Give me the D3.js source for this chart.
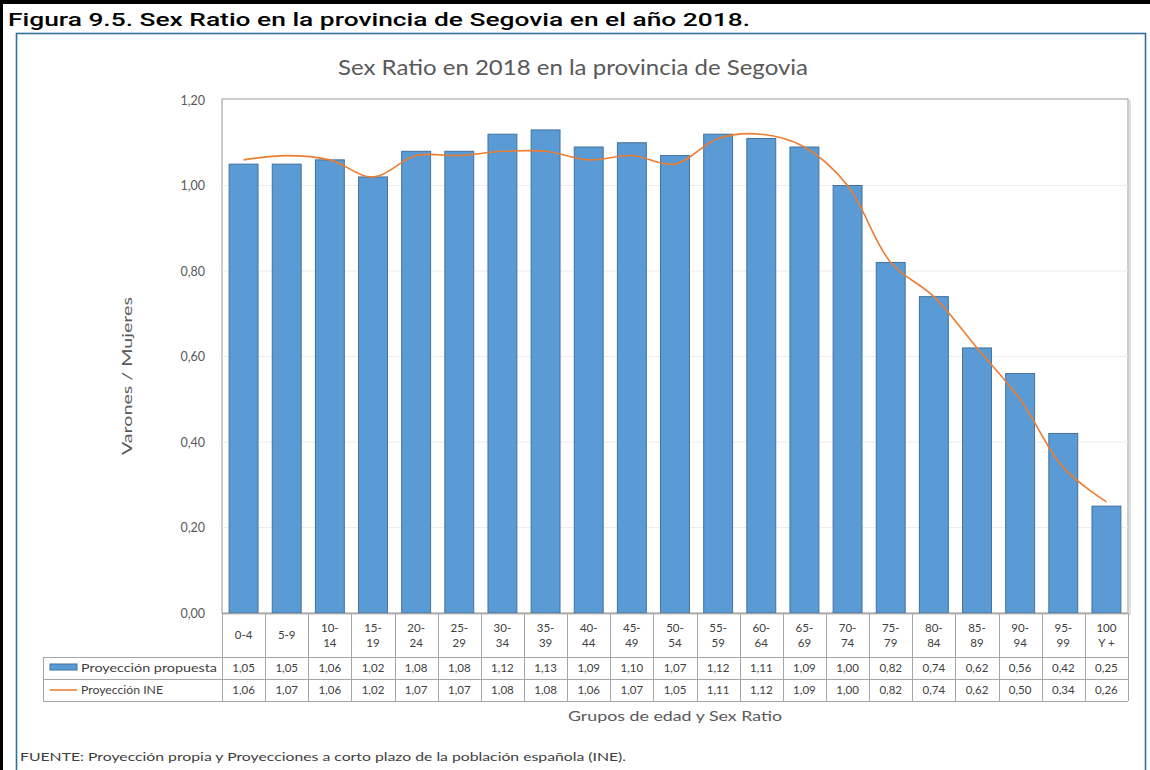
<!DOCTYPE html>
<html><head><meta charset="utf-8">
<script src="https://cdn.jsdelivr.net/npm/d3@7"></script>
<style>body{margin:0;background:#fff}svg{display:block}</style>
</head><body>
<svg id="c" width="1150" height="770"></svg>
<script>
const categories = [["0-4"],["5-9"],["10-","14"],["15-","19"],["20-","24"],["25-","29"],["30-","34"],["35-","39"],["40-","44"],["45-","49"],["50-","54"],["55-","59"],["60-","64"],["65-","69"],["70-","74"],["75-","79"],["80-","84"],["85-","89"],["90-","94"],["95-","99"],["100","Y +"]];
const propuesta = [1.05,1.05,1.06,1.02,1.08,1.08,1.12,1.13,1.09,1.10,1.07,1.12,1.11,1.09,1.00,0.82,0.74,0.62,0.56,0.42,0.25];
const ine = [1.06,1.07,1.06,1.02,1.07,1.07,1.08,1.08,1.06,1.07,1.05,1.11,1.12,1.09,1.00,0.82,0.74,0.62,0.50,0.34,0.26];
const yTicks = [0,0.2,0.4,0.6,0.8,1.0,1.2];
const seriesNames = ["Proyección propuesta","Proyección INE"];

const svg = d3.select("#c");
const fmt = v => d3.format(".2f")(v).replace(".", ",");
const font = "Lato, 'Open Sans', sans-serif";
const txt = "#595959";

// outer borders
svg.append("rect").attr("x",0).attr("y",0).attr("width",1150).attr("height",4).attr("fill","#000");
svg.append("rect").attr("x",0).attr("y",0).attr("width",3).attr("height",770).attr("fill","#000");
svg.append("text").attr("x",8).attr("y",26).attr("font-family","Roboto, 'DejaVu Sans Condensed', sans-serif")
  .attr("font-weight",500).attr("font-size",19).attr("fill","#000")
  .attr("textLength",742).attr("lengthAdjust","spacingAndGlyphs")
  .text("Figura 9.5. Sex Ratio en la provincia de Segovia en el año 2018.");
// blue frame
svg.append("rect").attr("x",16.5).attr("y",33.5).attr("width",1129).attr("height",760)
  .attr("fill","none").attr("stroke","#2f6f9c").attr("stroke-width",1.6);

const X0 = 222, X1 = 1128, Y0 = 613, Ytop = 100;
const x = d3.scaleBand().domain(d3.range(categories.length)).range([X0, X1]).padding(0);
const y = d3.scaleLinear().domain([0,1.2]).range([Y0, Ytop]);
const bw = x.bandwidth()*0.67;

// chart title
svg.append("text").attr("x",573).attr("y",75).attr("text-anchor","middle").attr("font-family",font)
  .attr("font-size",22).attr("fill",txt).attr("textLength",470).attr("lengthAdjust","spacingAndGlyphs")
  .text("Sex Ratio en 2018 en la provincia de Segovia");

// plot area with subtle shadow
svg.append("rect").attr("x",X0+2).attr("y",Ytop+1).attr("width",X1-X0).attr("height",Y0-Ytop)
  .attr("fill","none").attr("stroke","#e0e0e0").attr("stroke-width",2);
svg.append("rect").attr("x",X0).attr("y",Ytop-1).attr("width",X1-X0).attr("height",Y0-Ytop+1)
  .attr("fill","#fff").attr("stroke","#9a9a9a").attr("stroke-width",1);

// gridlines
svg.append("g").selectAll("line").data(yTicks.slice(1,-1)).join("line")
  .attr("x1",X0).attr("x2",X1).attr("y1",d=>y(d)).attr("y2",d=>y(d))
  .attr("stroke","#ececec").attr("stroke-width",1);

// y axis labels
const yAxis = svg.append("g").attr("transform",`translate(${X0-17},0)`)
  .call(d3.axisLeft(y).tickValues(yTicks).tickFormat(fmt).tickSize(0).tickPadding(0));
yAxis.select(".domain").remove();
yAxis.selectAll("text").attr("font-family",font).attr("font-size",12.5).attr("fill",txt);

svg.append("text").attr("transform","translate(132,376) rotate(-90)").attr("text-anchor","middle")
  .attr("font-family",font).attr("font-size",13).attr("fill",txt)
  .attr("textLength",158).attr("lengthAdjust","spacingAndGlyphs").text("Varones / Mujeres");

// bars
svg.append("g").selectAll("rect").data(propuesta).join("rect")
  .attr("x",(d,i)=>x(i)+(x.bandwidth()-bw)/2).attr("width",bw)
  .attr("y",d=>y(d)).attr("height",d=>Y0-y(d))
  .attr("fill","#5b9bd5").attr("stroke","#41719c").attr("stroke-width",1);

// line
const line = d3.line().x((d,i)=>x(i)+x.bandwidth()/2).y(d=>y(d)).curve(d3.curveCatmullRom.alpha(0.5));
svg.append("path").datum(ine).attr("d",line).attr("fill","none").attr("stroke","#ed7d31").attr("stroke-width",1.6);

// data table
const R0 = 613, R1 = 657, R2 = 679, R3 = 701, TL = 43;
const grid = svg.append("g").attr("stroke","#a6a6a6").attr("stroke-width",1).attr("fill","none");
grid.append("line").attr("x1",X0).attr("x2",X1).attr("y1",R0+0.5).attr("y2",R0+0.5);
[R1,R2,R3].forEach(r=>grid.append("line").attr("x1",TL).attr("x2",X1).attr("y1",r+0.5).attr("y2",r+0.5));
grid.append("line").attr("x1",TL+0.5).attr("x2",TL+0.5).attr("y1",R1).attr("y2",R3);
d3.range(categories.length+1).forEach(i=>{
  const xx = i<categories.length ? x(i) : X1;
  grid.append("line").attr("x1",Math.round(xx)+0.5).attr("x2",Math.round(xx)+0.5).attr("y1",R0).attr("y2",R3);
});

// category labels
const cat = svg.append("g").attr("font-family",font).attr("font-size",11.5).attr("fill","#404040").attr("text-anchor","middle");
categories.forEach((c,i)=>{
  const cx = x(i)+x.bandwidth()/2;
  if(c.length===1){
    cat.append("text").attr("x",cx).attr("y",639).text(c[0]);
  } else {
    cat.append("text").attr("x",cx).attr("y",632).text(c[0]);
    cat.append("text").attr("x",cx).attr("y",647).text(c[1]);
  }
});

// values
const vals = svg.append("g").attr("font-family",font).attr("font-size",11.5).attr("fill","#404040").attr("text-anchor","middle");
[propuesta, ine].forEach((s,k)=>{
  const yy = k===0 ? (R1+R2)/2+4 : (R2+R3)/2+4;
  s.forEach((v,i)=>vals.append("text").attr("x",x(i)+x.bandwidth()/2).attr("y",yy).text(fmt(v)));
});

// legend keys
svg.append("rect").attr("x",50).attr("y",664).attr("width",27).attr("height",6)
  .attr("fill","#5b9bd5").attr("stroke","#41719c").attr("stroke-width",1);
svg.append("line").attr("x1",50).attr("x2",77).attr("y1",690).attr("y2",690).attr("stroke","#ed7d31").attr("stroke-width",1.6);
const leg = svg.append("g").attr("font-family",font).attr("font-size",11.5).attr("fill","#404040");
leg.append("text").attr("x",81).attr("y",(R1+R2)/2+4).attr("textLength",136).attr("lengthAdjust","spacingAndGlyphs").text(seriesNames[0]);
leg.append("text").attr("x",81).attr("y",(R2+R3)/2+4).attr("textLength",82).attr("lengthAdjust","spacingAndGlyphs").text(seriesNames[1]);

// x axis title
svg.append("text").attr("x",675).attr("y",721).attr("text-anchor","middle").attr("font-family",font)
  .attr("font-size",13.5).attr("fill",txt).attr("textLength",214).attr("lengthAdjust","spacingAndGlyphs")
  .text("Grupos de edad y Sex Ratio");

// footer
svg.append("text").attr("x",20).attr("y",761).attr("font-family",font).attr("font-size",12).attr("fill","#404040")
  .attr("textLength",606).attr("lengthAdjust","spacingAndGlyphs")
  .text("FUENTE: Proyección propia y Proyecciones a corto plazo de la población española (INE).");
</script>
</body></html>
